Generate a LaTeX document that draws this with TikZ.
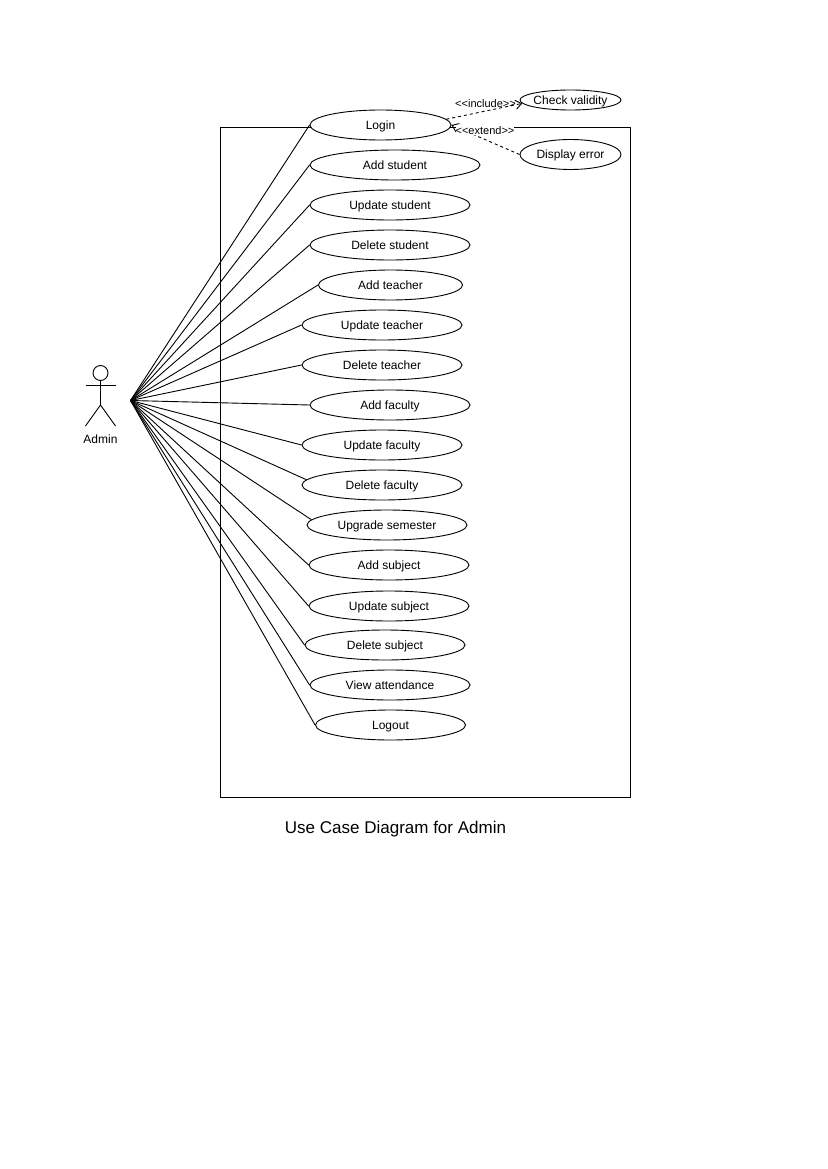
\documentclass[tikz,border=0pt]{standalone}
\usepackage{fontspec}
\setmainfont{Liberation Sans}
\usepackage{tikz}
\usetikzlibrary{arrows.meta, shapes.geometric}

\begin{document}
\begin{tikzpicture}[x=1pt, y=-1pt, line width=0.9pt, >={Straight Barb[length=6pt, width=9pt]},
		c/.style={ellipse, draw, fill=white, inner sep=0pt, minimum height=30pt, text height=8.7pt, text depth=0.3pt, font=\fontsize{12}{14}\selectfont},
		l/.style={font=\fontsize{11}{13}\selectfont, inner sep=0pt}]
		\useasboundingbox (0,0) rectangle (827,1169);
		\fill[white] (0,0) rectangle (827,1169);

		\node[draw, minimum width=410pt, minimum height=670pt, inner sep=0pt] (b) at (425.5,462) {};

		\node[circle, draw, minimum size=15pt, inner sep=0pt] (h) at (100.5,373) {};
		\coordinate (n) at (100.5,405);
		\coordinate (ll) at (85.5,426);
		\coordinate (rl) at (115.5,426);
		\coordinate (la) at (85.5,385);
		\coordinate (ra) at (115.5,385);
		\coordinate (a) at (130.5,400.5);
		\node[font=\fontsize{12}{14}\selectfont, inner sep=0pt] (an) at (100.5,439) {Admin};

		\draw (h) -- (n);
		\draw (la) -- (ra);
		\draw (ll) -- (n) -- (rl);

		\node[c, minimum width=141pt] (lg) at (380.5,125) {Login};
		\node[c, minimum width=170pt] (as) at (395,165) {Add student};
		\node[c, minimum width=160pt] (us) at (390,205) {Update student};
		\node[c, minimum width=160pt] (ds) at (390,245) {Delete student};
		\node[c, minimum width=144pt] (at) at (390.5,285) {Add teacher};
		\node[c, minimum width=160pt] (ut) at (382,325) {Update teacher};
		\node[c, minimum width=160pt] (dt) at (382,365) {Delete teacher};
		\node[c, minimum width=160pt] (af) at (390,405) {Add faculty};
		\node[c, minimum width=160pt] (uf) at (382,445) {Update faculty};
		\node[c, minimum width=160pt] (df) at (382,485) {Delete faculty};
		\node[c, minimum width=160pt] (sm) at (387,525) {Upgrade semester};
		\node[c, minimum width=160pt] (ab) at (389,565) {Add subject};
		\node[c, minimum width=160pt] (ub) at (389,606) {Update subject};
		\node[c, minimum width=160pt] (db) at (385,645) {Delete subject};
		\node[c, minimum width=160pt] (va) at (390,685) {View attendance};
		\node[c, minimum width=150pt] (lo) at (390.5,725) {Logout};

		\node[c, inner xsep=-8pt, minimum width=101pt, minimum height=20pt] (cv) at (570.5,100) {Check validity};
		\node[c, minimum width=101pt] (de) at (570.5,154.5) {Display error};

		\draw (a) -- (lg.west);
		\draw (a) -- (as.west);
		\draw (a) -- (us.west);
		\draw (a) -- (ds.west);
		\draw (a) -- (at.west);
		\draw (a) -- (ut.west);
		\draw (a) -- (dt.west);
		\draw (a) -- (af.west);
		\draw (a) -- (uf.west);
		\draw (a) -- (df.176);
		\draw (a) -- (sm.176);
		\draw (a) -- (ab.west);
		\draw (a) -- (ub.west);
		\draw (a) -- (db.west);
		\draw (a) -- (va.west);
		\draw (a) -- (lo.west);

		\path[->, dashed] (lg.5) edge (cv.184);
		\path[->, dashed] (de.west) edge (lg.east);
		\node[l] (inc) at (485.5,103.5) {<{}<include>{}>};
		\node[l, fill=white] (ext) at (485,130.5) {<{}<extend>{}>};

		\node[font=\fontsize{17}{20}\selectfont, inner sep=0pt] (ti) at (395.5,829) {Use Case Diagram for Admin};
	\end{tikzpicture}
\end{document}
